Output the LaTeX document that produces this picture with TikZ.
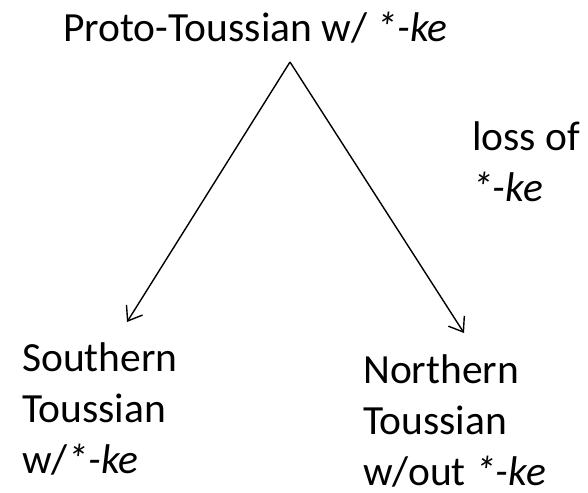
\documentclass[tikz,border=0pt]{standalone}
\usepackage{fontspec}
\setmainfont{Carlito}
\usetikzlibrary{arrows.meta}
\tikzset{
  lbl/.style={inner sep=0pt, anchor=base west, align=left, font=\fontsize{41.5}{51}\selectfont},
  branch/.style={line width=1.4pt, -{Straight Barb[length=13pt,width=19pt,line width=1.4pt]}}
}
\begin{document}
\begin{tikzpicture}[x=1pt,y=-1pt]
\useasboundingbox (0,0) rectangle (588,492);
\node[lbl] (proto) at (63,42) {Proto-Toussian w/ \textit{*-ke}};
\node[lbl] (loss) at (472,201) {loss of\\\textit{*-ke}};
\node[lbl] (south) at (22,473) {Southern\\Toussian\\w/\textit{*-ke}};
\node[lbl] (north) at (363,485) {Northern\\Toussian\\w/out \textit{*-ke}};
\coordinate (apex) at (290,62);
\coordinate (lt) at (127,322);
\coordinate (rt) at (464,333);
\draw[branch] (apex) -- (lt);
\draw[branch] (apex) -- (rt);
\end{tikzpicture}
\end{document}
